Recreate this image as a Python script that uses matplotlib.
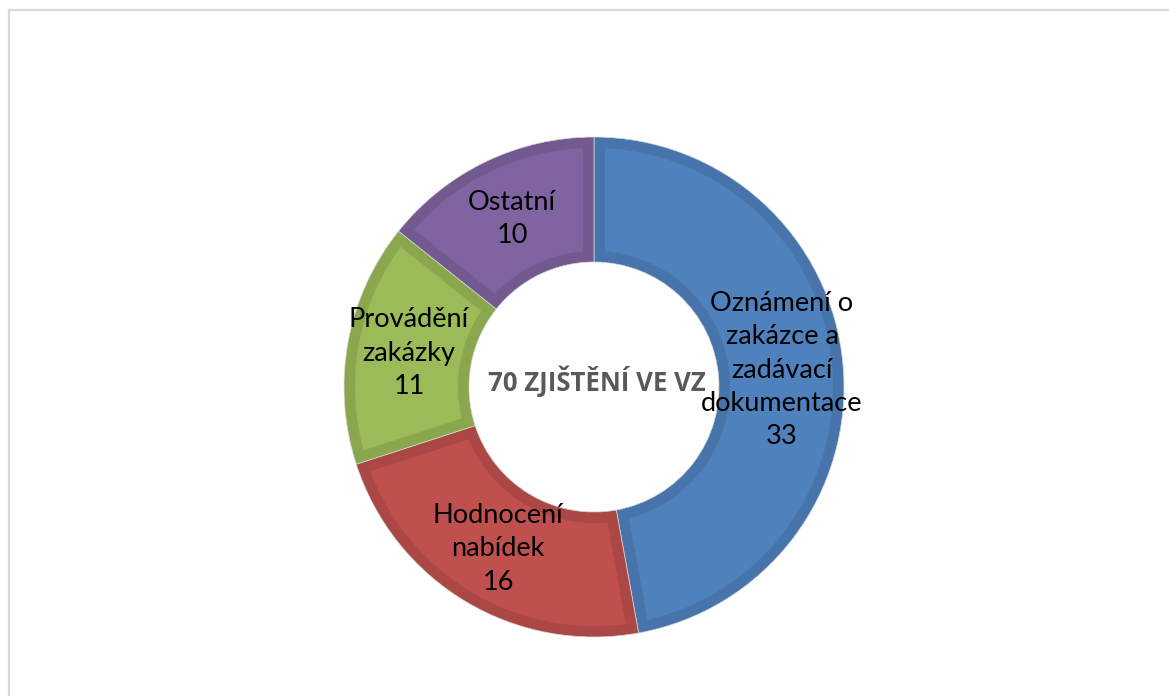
import matplotlib
matplotlib.use("Agg")
import matplotlib.pyplot as plt
import numpy as np
from matplotlib.lines import Line2D

categories = ["Oznámení o\nzakázce a\nzadávací\ndokumentace", "Hodnocení\nnabídek",
              "Provádění\nzakázky", "Ostatní"]
values = [33, 16, 11, 10]
center_title = "70 ZJIŠTĚNÍ VE VZ"

face_colors = ["#4F81BD", "#C0504D", "#9BBB59", "#8064A2"]
edge_colors = ["#4774AA", "#AB4744", "#8AA74E", "#725A91"]

W, H = 1169, 696
fig = plt.figure(figsize=(W / 100, H / 100), dpi=100)
ax = fig.add_axes([0, 0, 1, 1])

cx, cy = 594, H - 387
R = 250
ring = 125
band = 11

# base ring (darker bevel colour)
wedges, _ = ax.pie(values, startangle=90, counterclock=False, radius=R,
                   center=(cx, cy), colors=edge_colors,
                   wedgeprops=dict(width=ring, linewidth=0.5, edgecolor="#D8D8D8"))

# lighter inset face for each wedge
r_in = R - ring
for w, fc in zip(wedges, face_colors):
    t1, t2 = np.deg2rad(w.theta1), np.deg2rad(w.theta2)
    ro, ri = R - band, r_in + band
    do, di = np.arcsin(band / ro), np.arcsin(band / ri)
    a_out = np.linspace(t1 + do, t2 - do, 120)
    a_in = np.linspace(t2 - di, t1 + di, 120)
    xs = np.concatenate([cx + ro * np.cos(a_out), cx + ri * np.cos(a_in)])
    ys = np.concatenate([cy + ro * np.sin(a_out), cy + ri * np.sin(a_in)])
    ax.fill(xs, ys, color=fc, linewidth=0, zorder=3)

ax.set_xlim(0, W)
ax.set_ylim(0, H)
ax.set_aspect("equal")
ax.axis("off")

font = ["Lato", "DejaVu Sans"]
label_pos = [(782, 370), (498, 549), (409, 353), (512, 219)]
for cat, val, (lx, ly) in zip(categories, values, label_pos):
    ax.text(lx, H - ly, f"{cat}\n{val}", ha="center", va="center",
            fontsize=19.5, family=font, color="black", linespacing=1.42, zorder=5)

ax.text(597, H - 381, center_title, ha="center", va="center", fontsize=18.5,
        fontweight="bold", family=["Open Sans", "DejaVu Sans"], color="#595959", zorder=5)

fig.add_artist(Line2D([9 / W, 9 / W], [0, 1 - 10 / H], transform=fig.transFigure,
                      color="#D9D9D9", linewidth=1.6))
fig.add_artist(Line2D([9 / W, 1], [1 - 10 / H, 1 - 10 / H], transform=fig.transFigure,
                      color="#D9D9D9", linewidth=1.6))

fig.savefig("out.png", dpi=100, facecolor="white")
